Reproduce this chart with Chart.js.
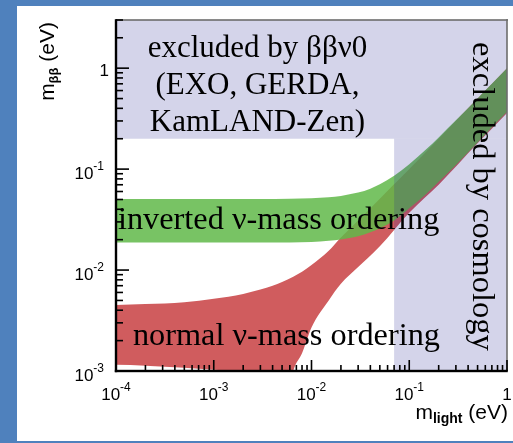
<!DOCTYPE html>
<html>
<head>
<meta charset="utf-8">
<script src="https://cdn.jsdelivr.net/npm/chart.js@4.4.1/dist/chart.umd.min.js"></script>
<style>
  html, body { margin: 0; padding: 0; background: #4f81bd; width: 513px; height: 443px; overflow: hidden; }
  #frame { position: absolute; left: 17px; top: 6px; width: 496px; height: 435px; background: #fff; }
  canvas { display: block; }
</style>
</head>
<body>
<div id="frame"><canvas id="myChart" width="496" height="435"></canvas></div>
<script>
// axis decades and their labels (base, exponent)
const xDecades = [1e-4, 1e-3, 1e-2, 1e-1, 1];
const xDecadeLabels = [['10', '-4'], ['10', '-3'], ['10', '-2'], ['10', '-1'], ['1', '']];
const yDecades = [1e-3, 1e-2, 1e-1, 1];
const yDecadeLabels = [['10', '-3'], ['10', '-2'], ['10', '-1'], ['1', '']];

// inverted mass ordering band (eV)
const mLightIO = [1e-4, 1e-3, 3e-3, 6e-3, 1e-2, 1.5e-2, 2e-2, 3e-2, 4e-2, 5e-2, 7e-2, 0.1, 0.15, 0.2, 0.3, 0.5, 0.7, 1];
const ioUpper = [0.0505, 0.0505, 0.0506, 0.0508, 0.0515, 0.0527, 0.0543, 0.0585, 0.064, 0.0707, 0.086, 0.112, 0.158, 0.206, 0.304, 0.502, 0.702, 1.0];
const ioLower = [0.0187, 0.0187, 0.0187, 0.0188, 0.019, 0.0195, 0.0201, 0.0216, 0.0237, 0.026, 0.031, 0.041, 0.057, 0.075, 0.11, 0.183, 0.26, 0.37];

// normal mass ordering band (eV)
const mLightNO = [1e-4, 2e-4, 5e-4, 1e-3, 2e-3, 3e-3, 4e-3, 5e-3, 6.5e-3, 8e-3, 1e-2, 1.5e-2, 2e-2, 3e-2, 5e-2, 0.1, 0.2, 0.5, 1];
const noUpper = [0.0045, 0.0046, 0.0048, 0.0052, 0.0058, 0.0064, 0.0070, 0.0076, 0.0086, 0.0096, 0.0112, 0.0155, 0.021, 0.031, 0.051, 0.1, 0.2, 0.5, 1.0];
const noLower = [0.00115, 0.00113, 0.00108, 0.00103, 0.00094, 0.0007, 0.00045, 0.0003, 0.001, 0.0015, 0.0027, 0.005, 0.0073, 0.0107, 0.0172, 0.037, 0.07, 0.18, 0.36];

// excluded regions
const bbLimitX = [1e-4, 1];
const bbLimitY = [0.2, 0.2];
const cosmoX = [0.07, 1];
const cosmoY = [0.2, 0.2];

const xMin = 1e-4, xMax = 1, yMin = 1e-3, yMax = 3;

const pts = (xs, ys) => xs.map((x, i) => ({ x: x, y: ys[i] }));

// 1..9 x 10^n ticks, like ROOT
function logTicks(decades, max) {
  const out = [];
  decades.forEach(d => {
    for (let k = 1; k <= 9; k++) {
      const v = +(k * d).toPrecision(6);
      if (v <= max * 1.0001) out.push({ value: v });
    }
  });
  return out;
}
const isDecade = v => Math.abs(Math.log10(v) - Math.round(Math.log10(v))) < 1e-6;

const lavender = 'rgba(40, 40, 150, 0.2)';
const green = 'rgba(96, 184, 73, 0.85)';
const red = 'rgb(208, 92, 94)';
const sans = s => s + 'px "Liberation Sans", Arial, sans-serif';

// "10" with a raised exponent
function powerLabel(c, lab, px, py, align) {
  c.font = sans(17);
  const wb = c.measureText(lab[0]).width;
  c.font = sans(12);
  const we = c.measureText(lab[1]).width;
  let x0 = px;
  if (align === 'center') x0 = px - (wb + we) / 2;
  if (align === 'right') x0 = px - wb - we;
  c.font = sans(17);
  c.fillText(lab[0], x0, py);
  c.font = sans(12);
  c.fillText(lab[1], x0 + wb, py - 9);
}

const decor = {
  id: 'decor',
  afterDraw(chart) {
    const c = chart.ctx;
    const x = chart.scales.x, y = chart.scales.y;
    const L = x.getPixelForValue(xMin), R = x.getPixelForValue(xMax);
    const T = y.getPixelForValue(yMax), B = y.getPixelForValue(yMin);
    c.save();

    // frame: grey top/right, black left/bottom axes
    c.fillStyle = '#6e6e6e';
    c.fillRect(L, T - 0.8, R - L + 1, 1.6);
    c.fillRect(R - 0.8, T - 0.8, 1.6, B - T + 0.8);

    c.fillStyle = '#000000';
    x.ticks.forEach(t => {
      const px = x.getPixelForValue(t.value);
      const len = isDecade(t.value) ? 11 : 6;
      c.fillRect(px - 0.8, B - len, 1.6, len);
    });
    y.ticks.forEach(t => {
      const py = y.getPixelForValue(t.value);
      const len = isDecade(t.value) ? 13 : 7;
      c.fillRect(L, py - 0.8, len, 1.6);
    });
    c.fillRect(L - 1.2, T - 0.8, 2.4, B - T + 2);
    c.fillRect(L - 1.2, B - 1.2, R - L + 2, 2.4);

    // tick labels
    c.textBaseline = 'alphabetic';
    c.textAlign = 'left';
    xDecades.forEach((d, i) => powerLabel(c, xDecadeLabels[i], x.getPixelForValue(d), B + 29, 'center'));
    yDecades.forEach((d, i) => {
      const lab = yDecadeLabels[i];
      const py = y.getPixelForValue(d);
      if (lab[1]) powerLabel(c, lab, L - 12, py + 10, 'right');
      else powerLabel(c, lab, L - 7, py + 8, 'right');
    });

    // annotations
    c.font = '31px "Liberation Serif", "Times New Roman", serif';
    c.textAlign = 'center';
    const cx = x.getPixelForValue(0.0028);
    const by = y.getPixelForValue(1.3);
    c.fillText('excluded by ββν0', cx, by);
    c.fillText('(EXO, GERDA,', cx, by + 37);
    c.fillText('KamLAND-Zen)', cx, by + 74);

    c.save();
    c.font = '32.5px "Liberation Serif", "Times New Roman", serif';
    c.translate(x.getPixelForValue(0.448), y.getPixelForValue(0.0536));
    c.rotate(Math.PI / 2);
    c.fillText('excluded by cosmology', 0, 0);
    c.restore();

    c.font = '32.3px "Liberation Serif", "Times New Roman", serif';
    c.textAlign = 'left';
    c.fillText('inverted ν-mass ordering', L + 2, y.getPixelForValue(0.0253));
    c.fillText('normal ν-mass ordering', x.getPixelForValue(1.49e-4), y.getPixelForValue(0.00182));

    // axis titles with subscripts
    const xt = [['m', sans(21), 0], ['light', 'bold ' + sans(14), 4], [' (eV)', sans(21), 0]];
    let w = 0;
    xt.forEach(p => { c.font = p[1]; w += c.measureText(p[0]).width; });
    let tx = R + 1 - w;
    const ty = B + 48;
    xt.forEach(p => { c.font = p[1]; c.fillText(p[0], tx, ty + p[2]); tx += c.measureText(p[0]).width; });

    const yt = [['m', sans(21), 0], ['ββ', 'bold ' + sans(13), 4], [' (eV)', sans(21), 0]];
    w = 0;
    yt.forEach(p => { c.font = p[1]; w += c.measureText(p[0]).width; });
    c.save();
    c.translate(37, T + 2 + w);
    c.rotate(-Math.PI / 2);
    tx = 0;
    yt.forEach(p => { c.font = p[1]; c.fillText(p[0], tx, p[2]); tx += c.measureText(p[0]).width; });
    c.restore();

    c.restore();
  }
};

const ctx = document.getElementById('myChart').getContext('2d');
const myChart = new Chart(ctx, {
  type: 'line',
  data: {
    datasets: [{
      label: 'excluded by 0νββ',
      data: pts(bbLimitX, bbLimitY),
      fill: 'end',
      backgroundColor: lavender,
      borderColor: 'transparent',
      order: 0
    }, {
      label: 'excluded by cosmology',
      data: pts(cosmoX, cosmoY),
      fill: 'start',
      backgroundColor: lavender,
      borderColor: 'transparent',
      order: 0
    }, {
      label: 'inverted ordering',
      data: pts(mLightIO, ioUpper),
      fill: '+1',
      backgroundColor: green,
      borderColor: 'transparent',
      cubicInterpolationMode: 'monotone',
      order: 1
    }, {
      label: 'inverted ordering (lower)',
      data: pts(mLightIO, ioLower),
      fill: false,
      borderColor: 'transparent',
      cubicInterpolationMode: 'monotone',
      order: 1
    }, {
      label: 'normal ordering',
      data: pts(mLightNO, noUpper),
      fill: '+1',
      backgroundColor: red,
      borderColor: 'transparent',
      cubicInterpolationMode: 'monotone',
      order: 2
    }, {
      label: 'normal ordering (lower)',
      data: pts(mLightNO, noLower),
      fill: false,
      borderColor: 'transparent',
      cubicInterpolationMode: 'monotone',
      order: 2
    }]
  },
  options: {
    responsive: false,
    animation: false,
    layout: { padding: { left: 0, top: 14, right: 6, bottom: 0 } },
    elements: { point: { radius: 0, hoverRadius: 0 }, line: { borderWidth: 1 } },
    plugins: { legend: { display: false }, tooltip: { enabled: false } },
    scales: {
      x: {
        type: 'logarithmic',
        min: xMin,
        max: xMax,
        grid: { display: false, drawTicks: false },
        border: { display: false },
        ticks: { display: false },
        afterBuildTicks: s => { s.ticks = logTicks(xDecades, xMax); },
        afterFit: s => { s.height = 70; s.paddingLeft = 0; s.paddingRight = 0; }
      },
      y: {
        type: 'logarithmic',
        min: yMin,
        max: yMax,
        grid: { display: false, drawTicks: false },
        border: { display: false },
        ticks: { display: false },
        afterBuildTicks: s => { s.ticks = logTicks(yDecades, yMax); },
        afterFit: s => { s.width = 99; s.paddingTop = 0; s.paddingBottom = 0; }
      }
    }
  },
  plugins: [decor]
});
</script>
</body>
</html>
